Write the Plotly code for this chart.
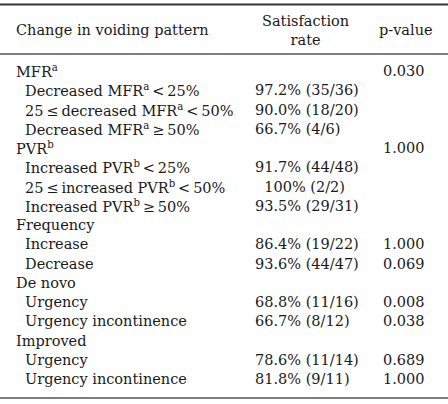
import plotly.graph_objects as go

# ---- data ----
T = "\u2009"  # thin space
row_labels = [
    "MFR<sup>a</sup>",
    f"Decreased MFR<sup>a</sup>{T}<{T}25%",
    f"25{T}≤{T}decreased MFR<sup>a</sup>{T}<{T}50%",
    f"Decreased MFR<sup>a</sup>{T}≥{T}50%",
    "PVR<sup>b</sup>",
    f"Increased PVR<sup>b</sup>{T}<{T}25%",
    f"25{T}≤{T}increased PVR<sup>b</sup>{T}<{T}50%",
    f"Increased PVR<sup>b</sup>{T}≥{T}50%",
    "Frequency",
    "Increase",
    "Decrease",
    "De novo",
    "Urgency",
    "Urgency incontinence",
    "Improved",
    "Urgency",
    "Urgency incontinence",
]
indent_level = [0, 1, 1, 1, 0, 1, 1, 1, 0, 1, 1, 0, 1, 1, 0, 1, 1]
satisfaction = [
    "", "97.2% (35/36)", "90.0% (18/20)", "66.7% (4/6)",
    "", "91.7% (44/48)", "\u2007100% (2/2)", "93.5% (29/31)",
    "", "86.4% (19/22)", "93.6% (44/47)",
    "", "68.8% (11/16)", "66.7% (8/12)",
    "", "78.6% (11/14)", "81.8% (9/11)",
]
p_values = [
    "0.030", "", "", "",
    "1.000", "", "", "",
    "", "1.000", "0.069",
    "", "0.008", "0.038",
    "", "0.689", "1.000",
]
headers = ["Change in voiding pattern", "Satisfaction<br>rate", "p-value"]

# ---- layout constants ----
W, H = 448, 404
FONT = "DejaVu Serif"
FS = 14.5
COLOR = "#1a1a1a"
y0, dy = 71, 19.25
x_left, x_indent = 14, 23
x_sat, x_p = 253, 381

fig = go.Figure()
ann = []
for i, lab in enumerate(row_labels):
    y = y0 + i * dy
    ann.append(dict(x=x_indent if indent_level[i] else x_left, y=y, text=lab,
                    xanchor="left", yanchor="middle", showarrow=False))
    if satisfaction[i]:
        ann.append(dict(x=x_sat, y=y, text=satisfaction[i],
                        xanchor="left", yanchor="middle", showarrow=False))
    if p_values[i]:
        ann.append(dict(x=x_p, y=y, text=p_values[i],
                        xanchor="left", yanchor="middle", showarrow=False))

ann.append(dict(x=x_left, y=30, text=headers[0], xanchor="left", yanchor="middle", showarrow=False))
ann.append(dict(x=305, y=30, text=headers[1], xanchor="center", yanchor="middle", showarrow=False, align="center"))
ann.append(dict(x=406, y=30, text=headers[2], xanchor="center", yanchor="middle", showarrow=False))

shapes = [
    dict(type="line", x0=0, x1=W, y0=4.5, y1=4.5, line=dict(color="#333", width=2)),
    dict(type="line", x0=0, x1=W, y0=54, y1=54, line=dict(color="#555", width=1.3)),
    dict(type="line", x0=0, x1=W, y0=398, y1=398, line=dict(color="#555", width=1.3)),
]

fig.update_layout(
    width=W, height=H,
    margin=dict(l=0, r=0, t=0, b=0),
    paper_bgcolor="white", plot_bgcolor="white",
    font=dict(family=FONT, size=FS, color=COLOR),
    annotations=ann, shapes=shapes,
    xaxis=dict(range=[0, W], visible=False, fixedrange=True),
    yaxis=dict(range=[H, 0], visible=False, fixedrange=True),
    showlegend=False,
)
fig.write_html("out.html", config={"displayModeBar": False},
               post_script="document.body.style.margin='0';document.body.style.overflow='hidden';")
